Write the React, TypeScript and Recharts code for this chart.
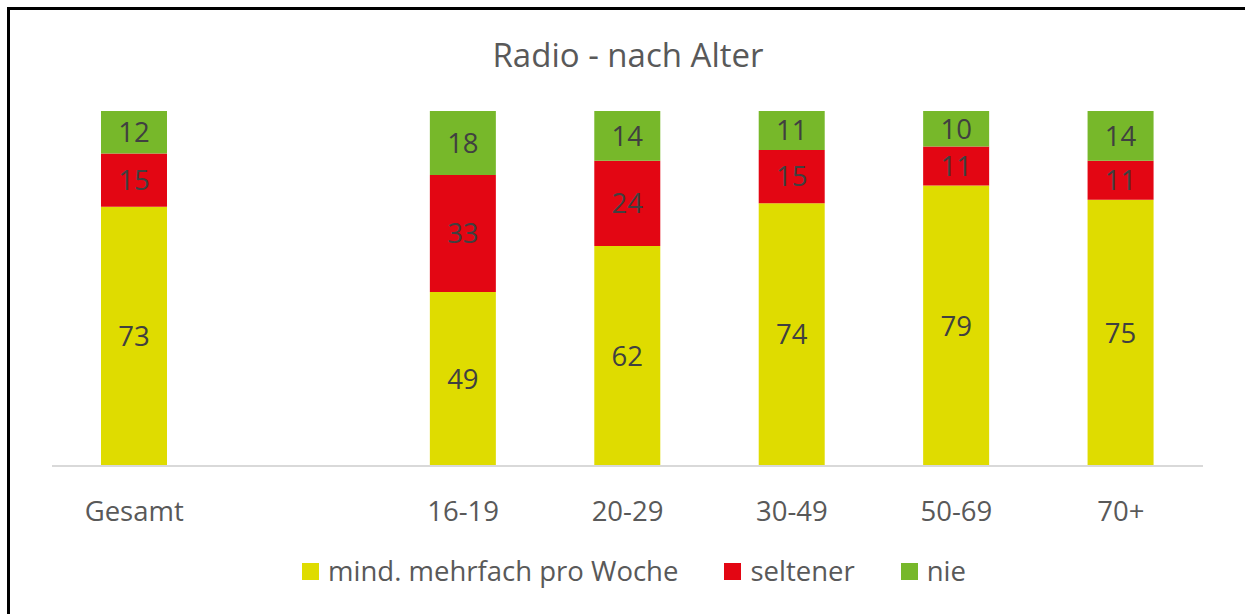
import { BarChart, Bar, XAxis, YAxis, Legend, LabelList } from 'recharts';

const categories = ['Gesamt', '', '16-19', '20-29', '30-49', '50-69', '70+'];
const mehrfach = [73, null, 49, 62, 74, 79, 75];
const seltener = [15, null, 33, 24, 15, 11, 11];
const nie = [12, null, 18, 14, 11, 10, 14];

const SERIES = [
  { key: 'mehrfach', name: 'mind. mehrfach pro Woche', color: '#DFDC00' },
  { key: 'seltener', name: 'seltener', color: '#E30613' },
  { key: 'nie', name: 'nie', color: '#77B82A' },
];

const FONT = '"Open Sans", sans-serif';

const data = categories.map((name, i) => ({
  name,
  mehrfach: mehrfach[i],
  seltener: seltener[i],
  nie: nie[i],
}));

const renderLegend = () => (
  <div style={{ display: 'flex', justifyContent: 'center', alignItems: 'center', fontFamily: FONT, fontSize: 27.5, color: '#595959' }}>
    {SERIES.map((s, i) => (
      <div key={s.key} style={{ display: 'flex', alignItems: 'center', marginLeft: i === 0 ? 0 : 46 }}>
        <span style={{ width: 17, height: 17, background: s.color, display: 'inline-block', marginRight: 9 }} />
        <span style={{ lineHeight: '30px' }}>{s.name}</span>
      </div>
    ))}
  </div>
);

const App = () => {
  return (
    <div style={{ position: 'absolute', left: 0, top: 0, width: 1245, height: 614, overflow: 'hidden', background: '#fff' }}>
      {/* Rahmen: nur oben und links sichtbar */}
      <div style={{ position: 'absolute', left: 7, top: 7, width: 1300, height: 700, borderTop: '3px solid #000', borderLeft: '3px solid #000' }} />
      <div style={{ position: 'absolute', left: 0, top: 38, width: 1256, textAlign: 'center', fontFamily: FONT, fontSize: 33, lineHeight: '33px', color: '#595959' }}>
        Radio - nach Alter
      </div>
      <div style={{ position: 'absolute', left: 0, top: 0 }}>
        <BarChart width={1245} height={614} data={data} margin={{ top: 111, right: 42, bottom: 108, left: 52 }} barSize={66}>
          <XAxis
            dataKey="name"
            interval={0}
            height={40}
            tickLine={false}
            tickSize={0}
            tickMargin={35}
            axisLine={{ stroke: '#D9D9D9', strokeWidth: 2 }}
            tick={{ fill: '#595959', fontSize: 27.5, fontFamily: FONT }}
          />
          <YAxis hide domain={[0, 100]} />
          <Legend verticalAlign="middle" align="center" wrapperStyle={{ top: 556, left: 0, width: 1268 }} content={renderLegend} />
          {SERIES.map((s) => (
            <Bar key={s.key} dataKey={s.key} name={s.name} stackId="a" fill={s.color} isAnimationActive={false}>
              <LabelList dataKey={s.key} position="center" fill="#404040" style={{ fontSize: 27.5, fontFamily: FONT }} />
            </Bar>
          ))}
        </BarChart>
      </div>
    </div>
  );
};

export default App;
